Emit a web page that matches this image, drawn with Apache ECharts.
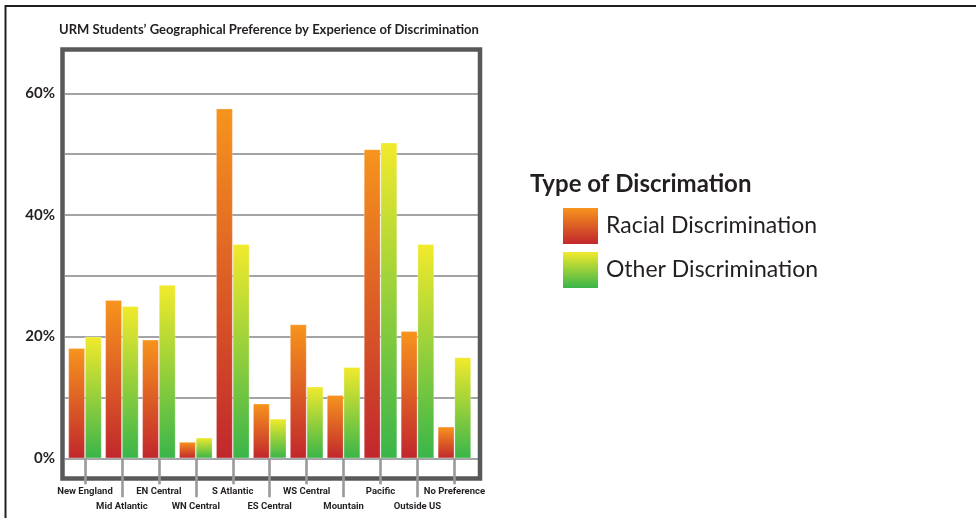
<!DOCTYPE html>
<html>
<head>
<meta charset="utf-8">
<script src="https://cdn.jsdelivr.net/npm/echarts@6/dist/echarts.min.js"></script>
<style>
  html, body { margin: 0; padding: 0; background: #fff; }
</style>
</head>
<body>
<div id="main" style="width: 976px;height:518px;"></div>
<script>
// 数据
var regions = ['New England', 'Mid Atlantic', 'EN Central', 'WN Central', 'S Atlantic',
  'ES Central', 'WS Central', 'Mountain', 'Pacific', 'Outside US', 'No Preference']
var racial = [18.1, 26, 19.5, 2.7, 57.5, 9, 22, 10.4, 50.8, 20.9, 5.2]
var other = [20, 25, 28.5, 3.4, 35.2, 6.5, 11.8, 15, 51.9, 35.2, 16.6]
var seriesNames = ['Racial Discrimination', 'Other Discrimination']
var yLabels = { 0: '0%', 20: '20%', 40: '40%', 60: '60%' }

var ink = '#231f20'
var grad = function(top, bottom) {
  return {
    type: 'linear', x: 0, y: 0, x2: 0, y2: 1,
    colorStops: [{ offset: 0, color: top }, { offset: 1, color: bottom }]
  }
}

// 两条类目轴：偶数标签短刻度，奇数标签长刻度
var catAxis = function(odd, len, margin) {
  var pick = function(i) { return i % 2 === (odd ? 1 : 0) }
  return {
    type: 'category', gridIndex: 0, data: regions, position: 'bottom', z: 10,
    axisLine: { show: true, lineStyle: { opacity: 0 } },
    axisTick: {
      show: true, alignWithLabel: true, length: len, interval: pick,
      lineStyle: { color: '#9a9a9a', width: 2.6 }
    },
    axisLabel: {
      interval: pick, margin: margin,
      fontFamily: 'Roboto', fontWeight: 'bold', fontSize: 9.5, color: ink
    }
  }
}

var myChart = echarts.init(document.getElementById('main'))

var option = {
  animation: false,
  title: [
    {
      text: 'URM Students\u2019 Geographical Preference by Experience of Discrimination',
      left: 269, top: 23, textAlign: 'center', padding: 0,
      textStyle: { fontFamily: 'Lato', fontWeight: 'bold', fontSize: 13, color: ink }
    },
    {
      text: 'Type of Discrimation',
      left: 530, top: 172, padding: 0,
      textStyle: { fontFamily: 'Lato', fontWeight: 'bold', fontSize: 24, color: ink }
    }
  ],
  legend: {
    data: seriesNames,
    orient: 'vertical',
    left: 563, top: 208, padding: 0,
    icon: 'rect',
    itemWidth: 35, itemHeight: 36, itemGap: 8,
    itemStyle: { borderWidth: 0 },
    textStyle: { fontFamily: 'Lato', fontSize: 23, color: ink, padding: [8, 0, 0, 3] }
  },
  grid: [
    // bars
    { left: 66.5, width: 406.4, top: 93.3, bottom: 59.7 },
    // grid lines
    { left: 65, width: 413, top: 93.3, bottom: 59.7 }
  ],
  xAxis: [
    catAxis(false, 26, 28),
    catAxis(true, 39, 43),
    { type: 'value', gridIndex: 1, show: false }
  ],
  yAxis: [
    { type: 'value', gridIndex: 0, min: 0, max: 60, interval: 10, show: false },
    {
      type: 'value', gridIndex: 1, min: 0, max: 60, interval: 10,
      axisLine: { show: false },
      axisTick: { show: false },
      splitLine: { lineStyle: { color: '#a2a4a6', width: 2 } },
      axisLabel: {
        margin: 10,
        formatter: function(v) { return yLabels[v] || '' },
        fontFamily: 'Lato', fontWeight: 'bold', fontSize: 15, color: ink
      }
    }
  ],
  graphic: [
    // chart frame
    {
      type: 'rect', z: 1,
      shape: { x: 62.5, y: 49.5, width: 417.5, height: 429 },
      style: { fill: 'none', stroke: '#58595b', lineWidth: 4.5 }
    },
    // outer border
    {
      type: 'rect', z: 1,
      shape: { x: 5.5, y: 6, width: 1000, height: 600 },
      style: { fill: 'none', stroke: ink, lineWidth: 2 }
    }
  ],
  series: [
    {
      name: seriesNames[0], type: 'bar', xAxisIndex: 0, yAxisIndex: 0,
      barGap: '0%', barCategoryGap: '9.6%',
      itemStyle: { color: grad('#f7941d', '#c1272d'), borderColor: 'rgba(255,255,255,0.35)', borderWidth: 0.8 },
      data: racial
    },
    {
      name: seriesNames[1], type: 'bar', xAxisIndex: 0, yAxisIndex: 0,
      barGap: '0%', barCategoryGap: '9.6%',
      itemStyle: { color: grad('#f2ea2c', '#39b54a'), borderColor: 'rgba(255,255,255,0.35)', borderWidth: 0.8 },
      data: other
    }
  ]
}

myChart.setOption(option)
</script>
</body>
</html>
